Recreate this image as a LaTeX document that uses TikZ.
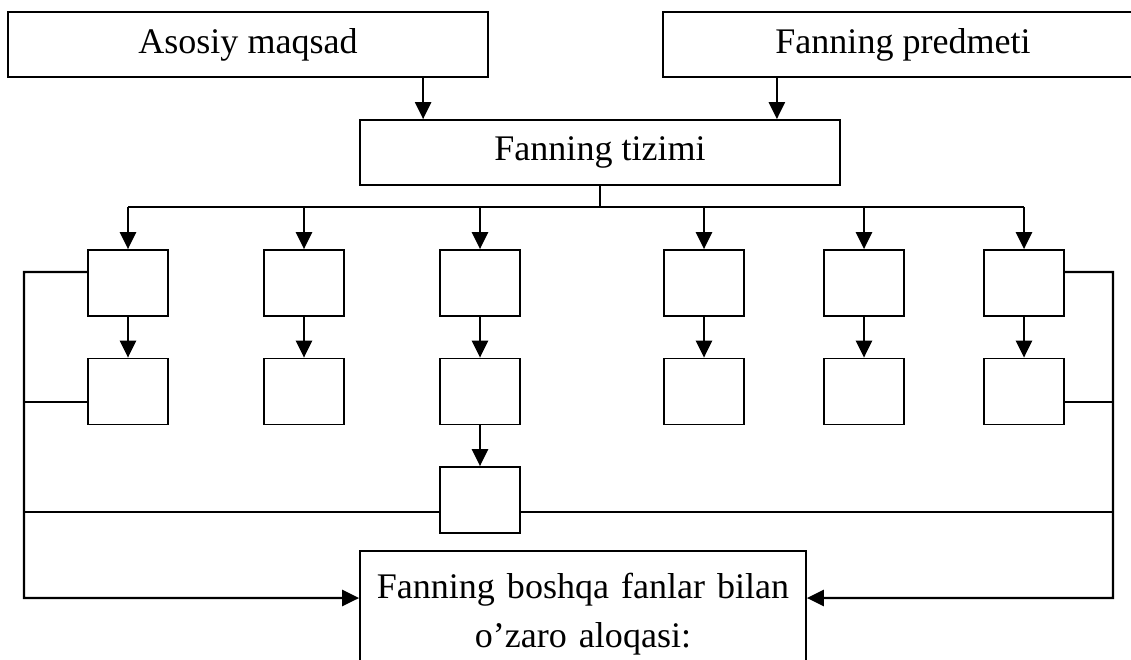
\documentclass[tikz,border=0pt]{standalone}
\usepackage{fontspec}
\setmainfont{Liberation Serif}
\usetikzlibrary{arrows.meta, positioning}

\begin{document}
\begin{tikzpicture}[
    box/.style={draw, line width=1pt, inner sep=0pt,
        font=\fontsize{20.5}{27.5}\selectfont},
    bigbox/.style={box, minimum width=9.6cm, minimum height=1.3cm},
    smallbox/.style={box, minimum width=1.6cm, minimum height=1.32cm},
    arr/.style={line width=1.4pt, -{Triangle[length=0.34cm,width=0.32cm]}},
    link/.style={line width=1pt}]
    \useasboundingbox (0,0) rectangle (22.62,-13.18);
    \node[bigbox] (maq) at (4.96,-0.89) {Asosiy maqsad};
    \node[bigbox] (pred) at (18.06,-0.89) {Fanning predmeti};
    \node[bigbox] (tiz) at (12,-3.05) {Fanning tizimi};
    \draw[arr] ([xshift=1.28cm]tiz.north west |- maq.south) -- ([xshift=1.28cm]tiz.north west);
    \draw[arr] ([xshift=-1.28cm]tiz.north east |- pred.south) -- ([xshift=-1.28cm]tiz.north east);
    \foreach \i/\x in {1/2.56, 2/6.08, 3/9.6, 4/14.08, 5/17.28, 6/20.48} {
        \node[smallbox] (b\i) at (\x,-5.66) {};
        \node[smallbox] (c\i) at (\x,-7.83) {};
        \draw[arr] (b\i.south) -- (c\i.north);
    }
    \node[smallbox] (d) at (9.6,-10) {};
    \draw[arr] (c3.south) -- (d.north);
    \node[box, anchor=north, text width=8.4cm, align=center,
        inner xsep=0.26cm, inner ysep=0.46cm, text height=0.5cm,
        text depth=2cm] (bot) at (11.66,-11)
    {Fanning boshqa fanlar bilan\\ o’zaro aloqasi:};
    \coordinate (bus) at (12,-4.14);
    \coordinate (lft) at (0.48,-11.96);
    \coordinate (rgt) at (22.26,-11.96);
    \draw[link] (tiz.south) -- (bus);
    \draw[link] (b1.north |- bus) -- (b6.north |- bus);
    \foreach \i in {1,...,6}
        \draw[arr] (b\i.north |- bus) -- (b\i.north);
    \draw[arr] ([yshift=0.22cm]b1.west) -| (lft) -- ([yshift=-0.96cm]bot.north west);
    \draw[arr] ([yshift=0.22cm]b6.east) -| (rgt) -- ([yshift=-0.96cm]bot.north east);
    \draw[link] ([yshift=-0.21cm]c1.west) -- ([yshift=-0.21cm]c1.west -| lft);
    \draw[link] ([yshift=-0.21cm]c6.east) -- ([yshift=-0.21cm]c6.east -| rgt);
    \draw[link] ([yshift=-0.24cm]d.west) -- ([yshift=-0.24cm]d.west -| lft);
    \draw[link] ([yshift=-0.24cm]d.east) -- ([yshift=-0.24cm]d.east -| rgt);
\end{tikzpicture}
\end{document}
